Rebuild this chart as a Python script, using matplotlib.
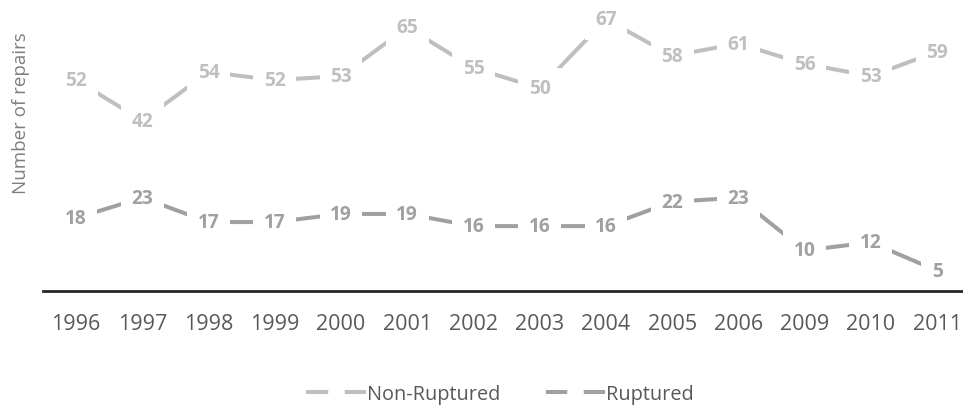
import matplotlib
matplotlib.use("Agg")
import matplotlib.pyplot as plt
from matplotlib.lines import Line2D

years = ["1996", "1997", "1998", "1999", "2000", "2001", "2002", "2003",
         "2004", "2005", "2006", "2009", "2010", "2011"]
non_ruptured = [52, 42, 54, 52, 53, 65, 55, 50, 67, 58, 61, 56, 53, 59]
ruptured = [18, 23, 17, 17, 19, 19, 16, 16, 16, 22, 23, 10, 12, 5]

series = [
    ("Non-Ruptured", non_ruptured, "#BFBFBF"),
    ("Ruptured", ruptured, "#A0A0A0"),
]

plt.rcParams["font.family"] = ["Open Sans", "DejaVu Sans"]

W, H = 963, 406
fig = plt.figure(figsize=(W / 100, H / 100), dpi=100)
ax = fig.add_axes([43 / W, (H - 292) / H, (W - 43) / W, 292 / H])

x = list(range(len(years)))
handles = []
for name, vals, color in series:
    ax.plot(x, vals, color=color, lw=2.9, solid_capstyle="butt",
            marker="o", ms=9, mfc="white", mec="white", zorder=2)
    for xi, v in zip(x, vals):
        ax.text(xi, v, str(v), ha="center", va="center", fontsize=13.8,
                fontweight="bold", color=color, zorder=2.2,
                bbox=dict(boxstyle="square,pad=0.55", fc="white", ec="none"))
    handles.append(Line2D([], [], color=color, lw=2.9, marker="o", ms=11,
                          mfc="white", mec="white", label=name))

ax.set_xlim(-0.5, -0.5 + (W - 43) / 66.23)
ax.set_ylim(0, 72)
ax.set_xticks(x)
ax.set_xticklabels(years, fontsize=15.5, color="#595959")
ax.tick_params(axis="x", length=0, pad=16)
ax.set_yticks([])
for side in ("top", "right", "left"):
    ax.spines[side].set_visible(False)
ax.spines["bottom"].set_color("#262626")
ax.spines["bottom"].set_linewidth(2.0)
ax.spines["bottom"].set_zorder(2.5)

fig.text(21 / W, 1 - 113 / H, "Number of repairs", rotation=90,
         ha="center", va="center", fontsize=13.5, color="#7F7F7F")

fig.legend(handles=handles, loc="center", bbox_to_anchor=(501 / W, 1 - 395 / H),
           ncol=2, frameon=False, fontsize=14.3, labelcolor="#595959",
           handlelength=2.8, handletextpad=0.15, columnspacing=2.4,
           numpoints=1)

fig.savefig("out.png", dpi=100)
